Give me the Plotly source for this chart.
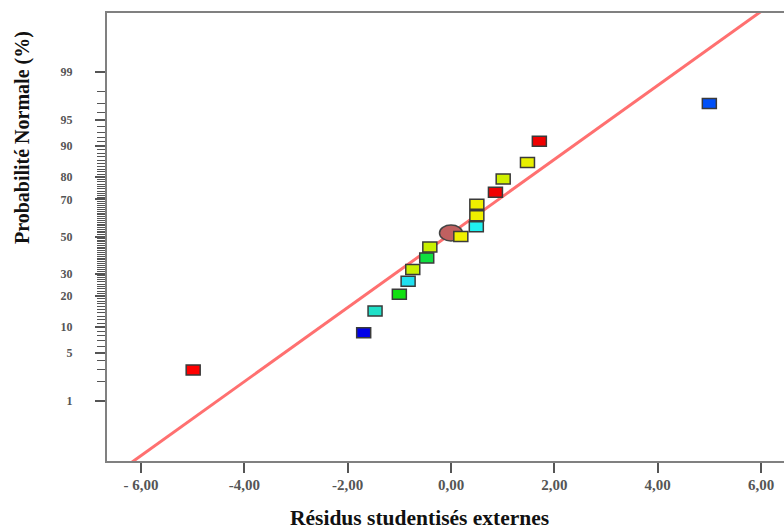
import plotly.graph_objects as go
from statistics import NormalDist

nd = NormalDist()

def probit(p):
    return nd.inv_cdf(p / 100.0)

# ---- data ----
residus = [-4.99, -1.69, -1.47, -1.00, -0.83, -0.74, -0.47, -0.41, 0.19, 0.49, 0.50, 0.50, 0.86, 1.01, 1.48, 1.71, 5.00]
prob_pct = [2.95, 8.7, 14.6, 20.7, 26.3, 32.1, 38.1, 44.1, 50.0, 55.5, 61.6, 67.6, 73.4, 79.2, 85.2, 91.1, 97.0]
point_colors = ["#FF0000", "#0000E8", "#20E0C8", "#10E010", "#20E0F0", "#C8F000", "#10E040", "#C8F000",
                "#F0F000", "#20F0F0", "#F0F000", "#F0F000", "#F00000", "#D0F000", "#E8F000", "#F00000", "#0050F8"]

ellipse_x = [0.0]
ellipse_pct = [52.0]
ellipse_color = "#C06060"

fit_center = -0.08   # residual at 50 %
fit_scale = 1.91     # residual per normal-quantile unit

y_tick_pct = [1, 5, 10, 20, 30, 50, 70, 80, 90, 95, 99]
y_tick_text = [str(v) for v in y_tick_pct]
x_tick_vals = [-6, -4, -2, 0, 2, 4, 6]
x_tick_text = ["- 6,00", "-4,00", "-2,00", "0,00", "2,00", "4,00", "6,00"]

# ---- derived ----
z_pts = [probit(p) for p in prob_pct]
z_ell = [probit(p) for p in ellipse_pct]
y_range = [-3.175, 3.161]
x_range = [-6.658, 6.445]
line_z = [y_range[0] - 0.5, y_range[1] + 0.5]
line_x = [fit_center + fit_scale * z for z in line_z]
minor_vals = [probit(p) for p in range(1, 100) if p not in y_tick_pct]

fig = go.Figure()
fig.add_trace(go.Scatter(x=line_x, y=line_z, mode="lines",
                         line=dict(color="#FF7070", width=3), hoverinfo="skip", showlegend=False))
fig.add_trace(go.Scatter(x=residus, y=z_pts, mode="markers",
                         marker=dict(size=10, opacity=0), showlegend=False,
                         text=[f"{p} %" for p in prob_pct]))

shapes = []
for xe, ze in zip(ellipse_x, z_ell):
    shapes.append(dict(type="circle", xref="x", yref="y", xsizemode="pixel", ysizemode="pixel",
                       xanchor=xe, yanchor=ze, x0=-11.5, x1=11.5, y0=-8, y1=8,
                       fillcolor=ellipse_color, line=dict(color="#444444", width=1.5), layer="above"))
for xv, zv, c in zip(residus, z_pts, point_colors):
    shapes.append(dict(type="rect", xref="x", yref="y", xsizemode="pixel", ysizemode="pixel",
                       xanchor=xv, yanchor=zv, x0=-7, x1=7, y0=-5, y1=5,
                       fillcolor=c, line=dict(color="#3a3a3a", width=1.5), layer="above"))

serif = "Liberation Serif"
fig.update_layout(
    width=784, height=530,
    margin=dict(l=107, r=0, t=13, b=69),
    paper_bgcolor="white", plot_bgcolor="white",
    shapes=shapes,
    xaxis=dict(range=x_range, tickvals=x_tick_vals, ticktext=x_tick_text,
               showgrid=False, zeroline=False, showline=True, mirror=True,
               linecolor="#808080", linewidth=2,
               ticks="outside", ticklen=10, tickwidth=2, tickcolor="#555555",
               ticklabelstandoff=-1,
               tickfont=dict(family=serif, size=15, color="#555555", weight="bold")),
    yaxis=dict(range=y_range, tickvals=[probit(p) for p in y_tick_pct], ticktext=y_tick_text,
               showgrid=False, zeroline=False, showline=True, mirror=False,
               linecolor="#808080", linewidth=2,
               ticks="outside", ticklen=10, tickwidth=1.5, tickcolor="#555555",
               ticklabelstandoff=20,
               tickfont=dict(family=serif, size=12, color="#555555", weight="bold"),
               minor=dict(tickvals=minor_vals, ticks="outside", ticklen=8, tickwidth=1,
                          tickcolor="#555555", showgrid=False)),
    annotations=[
        dict(text="Résidus studentisés externes", xref="paper", yref="paper",
             x=0.4623, y=-0.127, xanchor="center", yanchor="middle", showarrow=False,
             font=dict(family=serif, size=21.5, color="#111111", weight="bold")),
        dict(text="Probabilité Normale (%)", xref="paper", yref="paper",
             x=-0.1256, y=0.723, xanchor="center", yanchor="middle", showarrow=False, textangle=-90,
             font=dict(family=serif, size=20, color="#111111", weight="bold")),
    ],
)
fig.write_html("out.html")
